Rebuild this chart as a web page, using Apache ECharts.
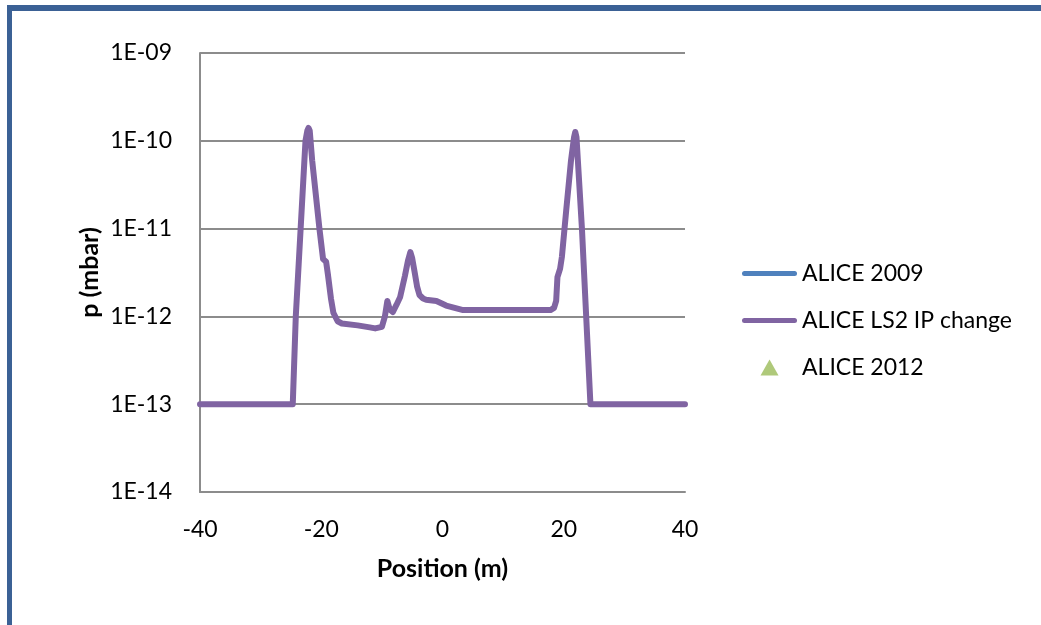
<!DOCTYPE html>
<html>
<head>
<meta charset="utf-8">
<script src="https://cdn.jsdelivr.net/npm/echarts@6/dist/echarts.min.js"></script>
<style>
  html, body { margin: 0; padding: 0; background: #fff; }
  #frame {
    position: absolute; left: 7px; top: 5px; width: 1100px; height: 700px;
    border-top: 6px solid #3b6195; border-left: 5px solid #3b6195;
  }
  #chart { position: absolute; left: 0; top: 0; width: 1041px; height: 625px; }
</style>
</head>
<body>
<div id="frame"></div>
<div id="chart"></div>
<script>
// position (m) and pressure (mbar)
const posLS2 = [-40, -24.7, -24.2, -23.4, -22.6, -22.3, -22.1, -21.9, -21.5, -20.3, -19.7, -19.2, -18.9, -18.4, -18.0, -17.3, -16.6, -14, -12, -11.1, -10.0, -9.5, -9.1, -8.7, -8.2, -7.6, -7.0, -6.2, -5.7, -5.3, -5.0, -4.6, -4.2, -3.8, -3.2, -2.7, -1.0, 0.6, 2.0, 3.4, 10, 17.8, 18.4, 18.75, 18.96, 19.4, 19.7, 20.4, 21.2, 21.7, 21.9, 22.1, 23.0, 24.4, 40];
const pLS2 = [1e-13, 1e-13, 1e-12, 1e-11, 1e-10, 1.3e-10, 1.4e-10, 1.3e-10, 6e-11, 1e-11, 4.5e-12, 4.2e-12, 3e-12, 1.6e-12, 1.1e-12, 8.8e-13, 8.3e-13, 7.9e-13, 7.5e-13, 7.3e-13, 7.6e-13, 1e-12, 1.5e-12, 1.2e-12, 1.12e-12, 1.35e-12, 1.65e-12, 2.9e-12, 4.3e-12, 5.4e-12, 4.6e-12, 3.2e-12, 2.2e-12, 1.75e-12, 1.6e-12, 1.55e-12, 1.5e-12, 1.33e-12, 1.25e-12, 1.18e-12, 1.18e-12, 1.18e-12, 1.25e-12, 1.5e-12, 2.8e-12, 3.5e-12, 4.8e-12, 1.6e-11, 6e-11, 1.1e-10, 1.26e-10, 1.1e-10, 1e-11, 1e-13, 1e-13];
const pos2009 = [];
const p2009 = [];
const pos2012 = [];
const p2012 = [];
const xTicks = [-40, -20, 0, 20, 40];
const yTickLabels = ['1E-14', '1E-13', '1E-12', '1E-11', '1E-10', '1E-09'];

const font = 'Lato, "Open Sans", sans-serif';
const lineIcon = 'path://M2.5,0 L52.5,0 A2.5,2.5 0 0 1 52.5,5 L2.5,5 A2.5,2.5 0 0 1 2.5,0 Z';
const triIcon = 'path://M9,0 L18,16 L0,16 Z';
const chart = echarts.init(document.getElementById('chart'));

chart.setOption({
  animation: false,
  grid: { left: 200, right: 356, top: 53, bottom: 133 },
  legend: {
    orient: 'vertical',
    left: 737,
    top: 257,
    itemWidth: 55,
    itemHeight: 16,
    itemGap: 24,
    textStyle: { fontFamily: font, fontSize: 23, color: '#000' },
    data: [
      { name: 'ALICE 2009', icon: lineIcon },
      { name: 'ALICE LS2 IP change', icon: lineIcon },
      { name: 'ALICE 2012', icon: triIcon }
    ]
  },
  xAxis: {
    type: 'value',
    min: -40,
    max: 40,
    interval: 20,
    name: 'Position (m)',
    nameLocation: 'middle',
    nameGap: 64,
    nameTextStyle: { fontFamily: font, fontSize: 25, fontWeight: 'bold', color: '#000' },
    axisLine: { onZero: false, lineStyle: { color: '#8c8c8c', width: 2 } },
    axisTick: { show: false },
    splitLine: { show: false },
    axisLabel: {
      fontFamily: font, fontSize: 23, color: '#000', margin: 26,
      formatter: v => xTicks.includes(v) ? String(v) : ''
    }
  },
  yAxis: {
    type: 'log',
    logBase: 10,
    min: 1e-14,
    max: 1e-9,
    name: 'p (mbar)',
    nameLocation: 'middle',
    nameGap: 98,
    nameTextStyle: { fontFamily: font, fontSize: 25, fontWeight: 'bold', color: '#000' },
    axisLine: { onZero: false, lineStyle: { color: '#8c8c8c', width: 2 } },
    axisTick: { show: false },
    splitLine: { lineStyle: { color: '#8c8c8c', width: 2 } },
    axisLabel: {
      fontFamily: font, fontSize: 23, color: '#000', margin: 28,
      formatter: v => yTickLabels[Math.round(Math.log10(v)) + 14]
    }
  },
  series: [
    {
      name: 'ALICE 2009',
      type: 'line',
      symbol: 'none',
      color: '#4f81bd',
      lineStyle: { width: 6 },
      data: pos2009.map((x, i) => [x, p2009[i]])
    },
    {
      name: 'ALICE LS2 IP change',
      type: 'line',
      symbol: 'none',
      color: '#8064a2',
      lineStyle: { width: 6, join: 'round', cap: 'round' },
      data: posLS2.map((x, i) => [x, pLS2[i]])
    },
    {
      name: 'ALICE 2012',
      type: 'scatter',
      symbol: 'triangle',
      symbolSize: 16,
      color: '#9bbb59',
      data: pos2012.map((x, i) => [x, p2012[i]])
    }
  ]
});
</script>
</body>
</html>
